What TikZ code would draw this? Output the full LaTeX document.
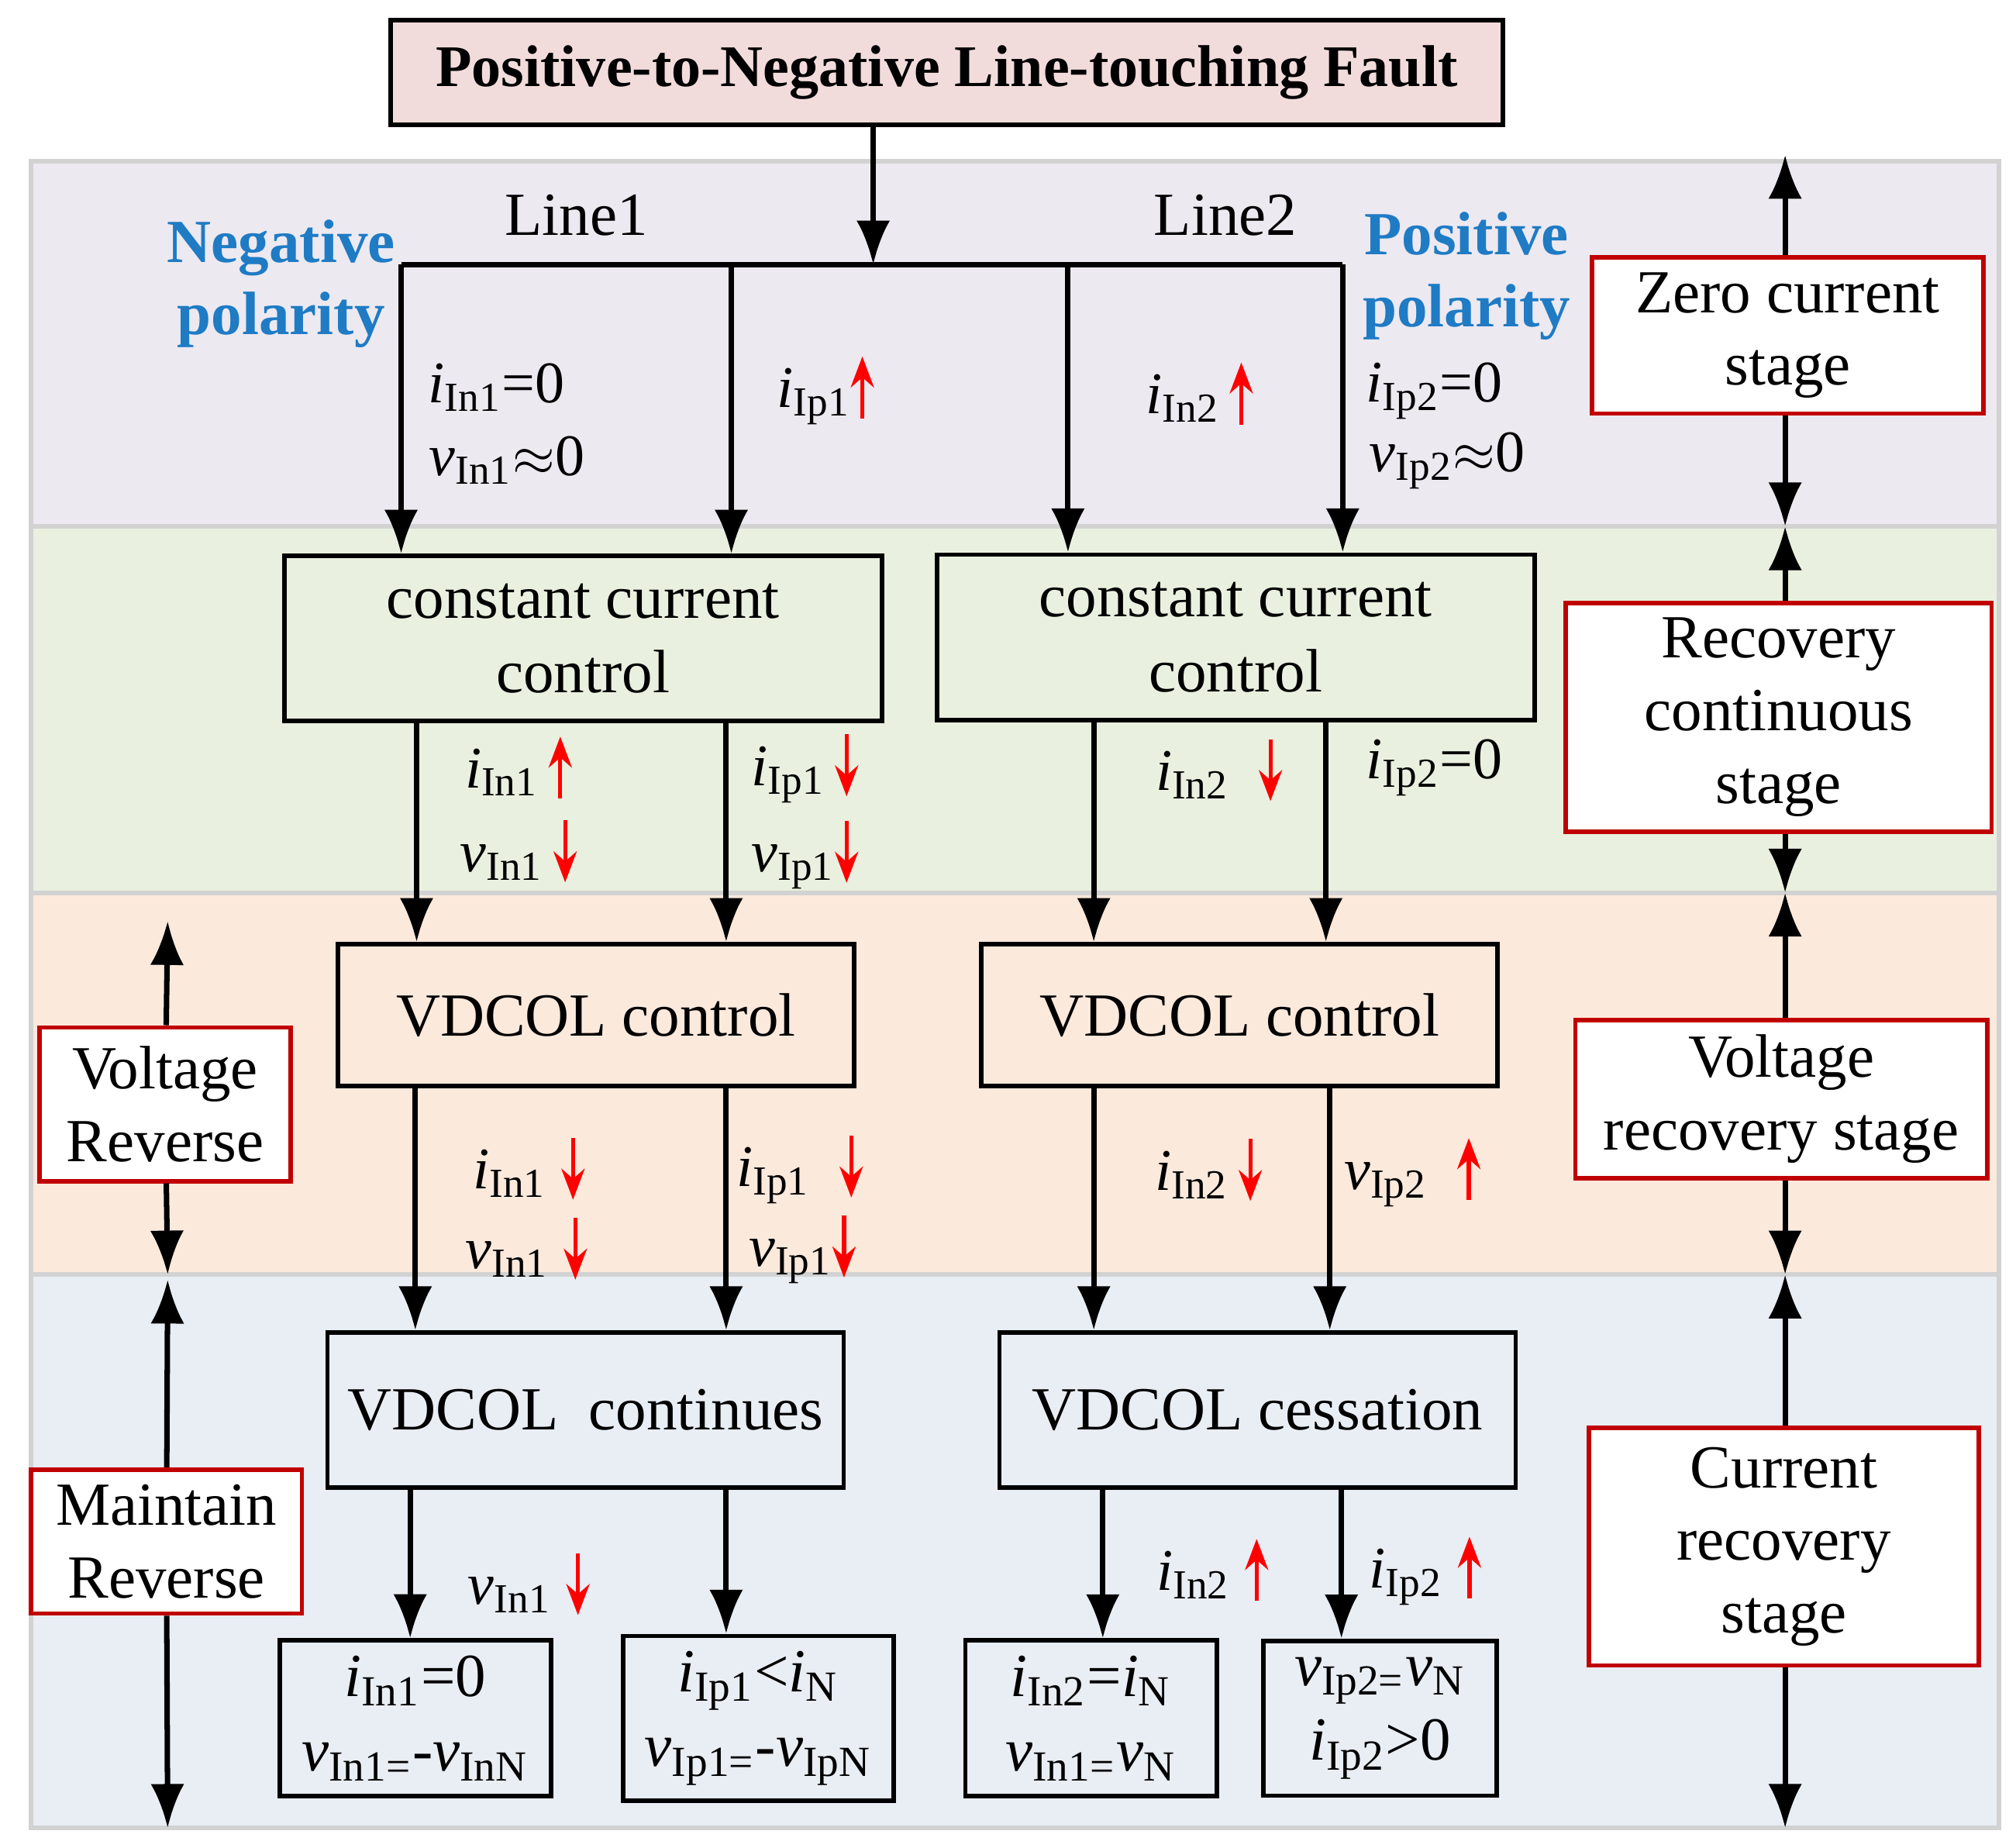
\documentclass[tikz,border=0pt]{standalone}
\usepackage{fontspec}
\setmainfont{Liberation Serif}
\usepackage{tikz}
\usetikzlibrary{positioning,arrows.meta}

\definecolor{bandA}{HTML}{ECE9F1}
\definecolor{bandB}{HTML}{E9F0DF}
\definecolor{bandC}{HTML}{FBE9DC}
\definecolor{bandD}{HTML}{E9EDF4}
\definecolor{titlefill}{HTML}{F2DCDB}
\definecolor{polblue}{HTML}{1F7BC4}
\definecolor{stagered}{HTML}{C00000}

\newcommand{\sg}[2]{\textit{#1}\textsubscript{#2}}
\newcommand{\upr}{\tikz[x=1cm,y=1cm,baseline=-1pt]\draw[red,line width=0.9pt,-{Stealth[length=2.4mm,width=1.8mm]}] (0,-0.12)--(0,0.36);}
\newcommand{\dnr}{\tikz[x=1cm,y=1cm,baseline=-1pt]\draw[red,line width=0.9pt,-{Stealth[length=2.4mm,width=1.8mm]}] (0,0.36)--(0,-0.12);}

\tikzset{
  box/.style={draw,line width=1pt,align=center,font=\fontsize{13.5}{16.5}\selectfont},
  stage/.style={draw=stagered,line width=1pt,fill=white,align=center,font=\fontsize{13.5}{16}\selectfont},
  arr/.style={line width=1.2pt,-{Latex[length=3.4mm,width=2.6mm]}},
  lbl/.style={font=\fontsize{13}{15}\selectfont,align=left},
  band/.style={draw=gray!35,line width=1pt}
}

\begin{document}
\begin{tikzpicture}[x=0.01cm,y=-0.01cm]
    \useasboundingbox (0,0) rectangle (1563,1432);
    % stage bands
    \draw[band,fill=bandA] (24,125) rectangle (1550,408);
    \draw[band,fill=bandB] (24,408) rectangle (1550,692);
    \draw[band,fill=bandC] (24,692) rectangle (1550,988);
    \draw[band,fill=bandD] (24,988) rectangle (1550,1417);

    \node[box,fill=titlefill,minimum width=8.62cm,minimum height=0.81cm,font=\fontsize{13}{15.5}\selectfont\bfseries] (fault) at (734,56) {Positive-to-Negative Line-touching Fault};

    % control boxes
    \node[box,fill=bandB,minimum width=4.63cm,minimum height=1.28cm] (ccl) at (452,495) {constant current\\control};
    \node[box,fill=bandB,minimum width=4.63cm,minimum height=1.28cm] (ccr) at (958,494) {constant current\\control};
    \node[box,fill=bandC,minimum width=4cm,minimum height=1.1cm] (vdl) at (462,787) {VDCOL control};
    \node[box,fill=bandC,minimum width=4cm,minimum height=1.1cm] (vdr) at (961,787) {VDCOL control};
    \node[box,fill=bandD,minimum width=4cm,minimum height=1.2cm] (vcl) at (454,1093) {VDCOL\ \ continues};
    \node[box,fill=bandD,minimum width=4cm,minimum height=1.2cm] (vcr) at (975,1093) {VDCOL cessation};
    \node[box,fill=bandD,minimum width=2.1cm,minimum height=1.2cm] (ra) at (322,1332) {\sg{i}{In1}=0\\\sg{v}{In1=}-\sg{v}{InN}};
    \node[box,fill=bandD,minimum width=2.1cm,minimum height=1.2cm] (rb) at (588,1332) {\sg{i}{Ip1}<\sg{i}{N}\\\sg{v}{Ip1=}-\sg{v}{IpN}};
    \node[box,fill=bandD,minimum width=1.95cm,minimum height=1.2cm] (rc) at (846,1332) {\sg{i}{In2}=\sg{i}{N}\\\sg{v}{In1=}\sg{v}{N}};
    \node[box,fill=bandD,minimum width=1.81cm,minimum height=1.2cm] (rd) at (1070,1332) {\sg{v}{Ip2=}\sg{v}{N}\\\sg{i}{Ip2}>0};

    % stage boxes
    \node[stage,minimum width=3.03cm,minimum height=1.21cm] (zero) at (1386,260) {Zero current\\stage};
    \node[stage,minimum width=3.3cm,minimum height=1.7cm] (reco) at (1379,556) {Recovery\\continuous\\stage};
    \node[stage,minimum width=3.19cm,minimum height=1.19cm] (volt) at (1381,852) {Voltage\\recovery stage};
    \node[stage,minimum width=3.02cm,minimum height=1.84cm] (curr) at (1383,1199) {Current\\recovery\\stage};
    \node[stage,minimum width=1.95cm,minimum height=1.19cm] (vrev) at (128,856) {Voltage\\Reverse};
    \node[stage,minimum width=2.1cm,minimum height=1.1cm] (mrev) at (129,1195) {Maintain\\Reverse};

    % stage boundaries
    \coordinate (z0) at (1384,120);  \coordinate (z1) at (1384,408);
    \coordinate (z2) at (1384,692);  \coordinate (z3) at (1384,988);
    \coordinate (z4) at (1384,1417);
    \coordinate (l0) at (130,714);   \coordinate (l1) at (130,988);
    \coordinate (l2) at (130,992);   \coordinate (l3) at (130,1417);
    \draw[arr] (zero.north -| z0) -- (z0);  \draw[arr] (zero.south -| z1) -- (z1);
    \draw[arr] (reco.north -| z1) -- (z1);  \draw[arr] (reco.south -| z2) -- (z2);
    \draw[arr] (volt.north -| z2) -- (z2);  \draw[arr] (volt.south -| z3) -- (z3);
    \draw[arr] (curr.north -| z3) -- (z3);  \draw[arr] (curr.south -| z4) -- (z4);
    \draw[arr] (vrev) -- (l0);  \draw[arr] (vrev) -- (l1);
    \draw[arr] (mrev) -- (l2);  \draw[arr] (mrev) -- (l3);

    % fault branches
    \coordinate (fj) at (677,205);
    \draw[arr] (fault.south -| fj) -- (fj);
    \draw[line width=1.2pt] (311,205) -- (1041,205);
    \draw[arr] (311,205) -- (ccl.north -| 311,0);
    \draw[arr] (567,205) -- (ccl.north -| 567,0);
    \draw[arr] (828,205) -- (ccr.north -| 828,0);
    \draw[arr] (1041,205) -- (ccr.north -| 1041,0);
    \draw[arr] (ccl.south -| 323,0) -- (vdl.north -| 323,0);
    \draw[arr] (ccl.south -| 563,0) -- (vdl.north -| 563,0);
    \draw[arr] (ccr.south -| 848,0) -- (vdr.north -| 848,0);
    \draw[arr] (ccr.south -| 1028,0) -- (vdr.north -| 1028,0);
    \draw[arr] (vdl.south -| 322,0) -- (vcl.north -| 322,0);
    \draw[arr] (vdl.south -| 563,0) -- (vcl.north -| 563,0);
    \draw[arr] (vdr.south -| 848,0) -- (vcr.north -| 848,0);
    \draw[arr] (vdr.south -| 1031,0) -- (vcr.north -| 1031,0);
    \draw[arr] (vcl.south -| 318,0) -- (ra.north -| 318,0);
    \draw[arr] (vcl.south -| 563,0) -- (rb.north -| 563,0);
    \draw[arr] (vcr.south -| 855,0) -- (rc.north -| 855,0);
    \draw[arr] (vcr.south -| 1040,0) -- (rd.north -| 1040,0);

    % labels
    \node[lbl,font=\fontsize{13.5}{16}\selectfont] (ln1) at (447,167) {Line1};
    \node[lbl,font=\fontsize{13.5}{16}\selectfont] (ln2) at (950,167) {Line2};
    \node[lbl,align=center,text=polblue,font=\fontsize{13.5}{16}\selectfont\bfseries] (negp) at (218,220) {Negative\\polarity};
    \node[lbl,align=center,text=polblue,font=\fontsize{13.5}{16}\selectfont\bfseries] (posp) at (1137,214) {Positive\\polarity};
    \node[lbl] at (385,300) {\sg{i}{In1}=0};
    \node[lbl] at (393,357) {\sg{v}{In1}$\approx$0};
    \node[lbl] at (640,302) {\sg{i}{Ip1}\upr};
    \node[lbl] at (930,305) {\sg{i}{In2}\,\upr};
    \node[lbl] at (1112,303) {\sg{i}{Ip2}=0};
    \node[lbl] at (1122,357) {\sg{v}{Ip2}$\approx$0};
    \node[lbl] at (402,595) {\sg{i}{In1}\,\upr};
    \node[lbl] at (402,660) {\sg{v}{In1}\,\dnr};
    \node[lbl] at (624,595) {\sg{i}{Ip1}\,\dnr};
    \node[lbl] at (624,662) {\sg{v}{Ip1}\dnr};
    \node[lbl] at (945,597) {\sg{i}{In2}\ \ \dnr};
    \node[lbl] at (1112,595) {\sg{i}{Ip2}=0};
    \node[lbl] at (410,906) {\sg{i}{In1}\ \dnr};
    \node[lbl] at (408,968) {\sg{v}{In1}\ \dnr};
    \node[lbl] at (620,906) {\sg{i}{Ip1}\ \ \dnr};
    \node[lbl] at (622,968) {\sg{v}{Ip1}\dnr};
    \node[lbl] at (937,907) {\sg{i}{In2}\,\dnr};
    \node[lbl] at (1095,908) {\sg{v}{Ip2}\ \ \upr};
    \node[lbl] at (410,1228) {\sg{v}{In1}\ \dnr};
    \node[lbl] at (940,1217) {\sg{i}{In2}\ \upr};
    \node[lbl] at (1105,1217) {\sg{i}{Ip2}\ \upr};
\end{tikzpicture}
\end{document}
